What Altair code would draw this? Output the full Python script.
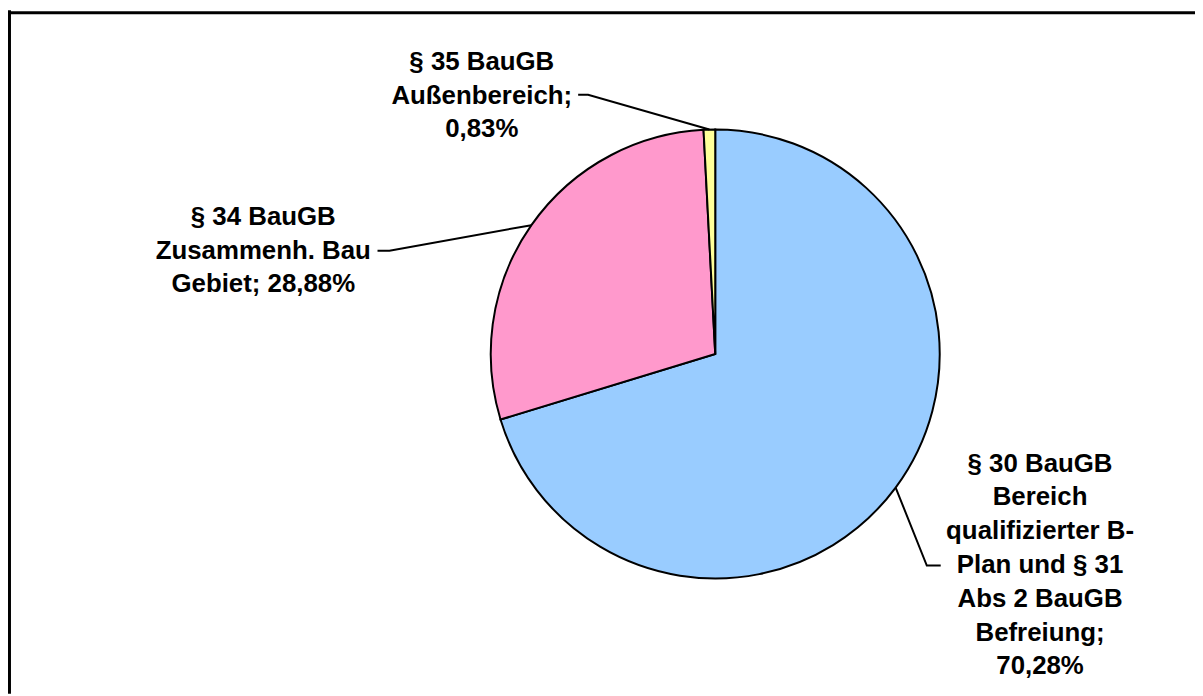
import math
import altair as alt
import pandas as pd

# ---- data ----
categories = [
    "§ 30 BauGB Bereich qualifizierter B-Plan und § 31 Abs 2 BauGB Befreiung",
    "§ 34 BauGB Zusammenh. Bau Gebiet",
    "§ 35 BauGB Außenbereich",
]
shares = [70.28, 28.88, 0.83]
colors = ["#99CCFF", "#FF99CC", "#FFFF99"]
label_lines = [
    ["§ 30 BauGB", "Bereich", "qualifizierter B-", "Plan und § 31", "Abs 2 BauGB", "Befreiung;", "{p}"],
    ["§ 34 BauGB", "Zusammenh. Bau", "Gebiet; {p}"],
    ["§ 35 BauGB", "Außenbereich;", "{p}"],
]

# ---- layout ----
W, H = 1195, 688
CX, CY, R = 712, 346, 226
FS = 26
LH = 34
label_centers = [(1039, 558.5), (257, 242), (477, 86)]
# leader tails: (bend point, end point near label)
tails = [((925, 559), (939, 559)), ((384, 242), (372, 242)), ((584, 85), (574, 85))]

def fmt(v):
    return f"{v:.2f}".replace(".", ",") + "%"

total = sum(shares)
pie_df = pd.DataFrame({"cat": categories, "share": shares, "idx": list(range(len(shares)))})

# text rows
text_rows = []
for i, lines in enumerate(label_lines):
    cx, cy = label_centers[i]
    n = len(lines)
    for j, ln in enumerate(lines):
        text_rows.append({
            "t": ln.replace("{p}", fmt(shares[i])),
            "x": cx,
            "y": cy + (j - (n - 1) / 2) * LH,
        })
text_df = pd.DataFrame(text_rows)

# leader lines
line_rows = []
cum = 0.0
for i, v in enumerate(shares):
    mid = (cum + v / 2) / total * 2 * math.pi
    cum += v
    px = CX + R * math.sin(mid)
    py = CY - R * math.cos(mid)
    (bx, by), (ex, ey) = tails[i]
    pts = [(px, py), (bx, by), (ex, ey)]
    for k, (xx, yy) in enumerate(pts):
        line_rows.append({"g": i, "k": k, "x": xx, "y": yy})
line_df = pd.DataFrame(line_rows)

arc = alt.Chart(pie_df).mark_arc(
    outerRadius=R, stroke="black", strokeWidth=2
).encode(
    theta=alt.Theta("share:Q", stack=True),
    color=alt.Color("cat:N", scale=alt.Scale(domain=categories, range=colors), legend=None),
    order=alt.Order("idx:Q"),
    x=alt.value(CX),
    y=alt.value(CY),
)

leaders = alt.Chart(line_df).mark_line(color="black", strokeWidth=2).encode(
    x=alt.X("x:Q", scale=None),
    y=alt.Y("y:Q", scale=None),
    detail="g:N",
    order="k:Q",
)

labels = alt.Chart(text_df).mark_text(
    font="Liberation Sans", fontWeight="bold", fontSize=FS,
    align="center", baseline="middle", color="black",
).encode(
    x=alt.X("x:Q", scale=None),
    y=alt.Y("y:Q", scale=None),
    text="t:N",
)

frame_top = alt.Chart(pd.DataFrame({"a": [0]})).mark_rule(color="black", strokeWidth=3).encode(
    x=alt.value(0), x2=alt.value(W), y=alt.value(2.5)
)
frame_left = alt.Chart(pd.DataFrame({"a": [0]})).mark_rule(color="black", strokeWidth=3).encode(
    x=alt.value(1.5), y=alt.value(0), y2=alt.value(H)
)

chart = alt.layer(arc, leaders, labels, frame_top, frame_left).properties(
    width=W, height=H, padding=0, autosize=alt.AutoSizeParams(type="none")
).configure_view(strokeWidth=0)

chart.save("out.html", embed_options={"renderer": "svg", "actions": False})
